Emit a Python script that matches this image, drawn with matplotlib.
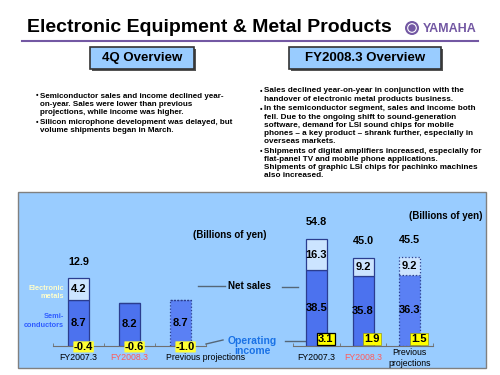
import matplotlib.pyplot as plt
from matplotlib.patches import Rectangle, Circle
from matplotlib.transforms import ScaledTranslation

plt.rcParams['font.family'] = ['Liberation Sans', 'DejaVu Sans']

# 4Q figures (billions of yen)
q4_labels = ['FY2007.3', 'FY2008.3', 'Previous projections']
q4_semi = [8.7, 8.2, 8.7]
q4_metals = [4.2, 0.0, 0.0]
q4_total = [12.9, None, None]
q4_income = [-0.4, -0.6, -1.0]

# full year figures (billions of yen)
fy_labels = ['FY2007.3', 'FY2008.3', 'Previous\nprojections']
fy_semi = [38.5, 35.8, 36.3]
fy_metals = [16.3, 9.2, 9.2]
fy_total = [54.8, 45.0, 45.5]
fy_income = [3.1, 1.9, 1.5]

label_colors = ['black', '#ff5a5a', 'black']

left_bullets = [
    ['Semiconductor sales and income declined year-',
     'on-year. Sales were lower than previous',
     'projections, while income was higher.'],
    ['Silicon microphone development was delayed, but',
     'volume shipments began in March.'],
]
right_bullets = [
    ['Sales declined year-on-year in conjunction with the',
     'handover of electronic metal products business.'],
    ['In the semiconductor segment, sales and income both',
     'fell. Due to the ongoing shift to sound-generation',
     'software, demand for LSI sound chips for mobile',
     'phones \u2013 a key product \u2013 shrank further, especially in',
     'overseas markets.'],
    ['Shipments of digital amplifiers increased, especially for',
     'flat-panel TV and mobile phone applications.',
     'Shipments of graphic LSI chips for pachinko machines',
     'also increased.'],
]

SEMI_C = '#4c72ee'
PROJ_C = '#5a80f4'
METAL_C = '#cce4ff'
EDGE_C = '#2b3d8f'
PANEL_C = '#99ccff'
PURPLE = '#7358a3'

fig = plt.figure(figsize=(5, 3.75), dpi=100)
bg = fig.add_axes([0, 0, 1, 1])
bg.set_xlim(0, 500)
bg.set_ylim(375, 0)
bg.axis('off')

# header
bg.text(27, 27, 'Electronic Equipment & Metal Products', fontsize=14,
        fontweight='bold', va='center', ha='left')
bg.plot([22, 478], [41, 41], color=PURPLE, lw=1.5)
bg.add_patch(Circle((412, 28), 7, fc=PURPLE, ec='none'))
bg.add_patch(Circle((412, 28), 4.3, fc='none', ec='white', lw=0.8))
bg.text(477, 28.5, 'YAMAHA', color=PURPLE, fontsize=9, fontweight='heavy',
        ha='right', va='center')

# overview boxes
for x0, x1, title in [(90, 194, '4Q Overview'), (289, 441, 'FY2008.3 Overview')]:
    bg.add_patch(Rectangle((x0 + 1.5, 48.5), x1 - x0, 22, fc='#555555', ec='none'))
    bg.add_patch(Rectangle((x0, 47), x1 - x0, 22, fc=PANEL_C, ec='#333333', lw=1.2))
    bg.text((x0 + x1) / 2, 58, title, fontsize=9.5, fontweight='bold',
            ha='center', va='center')


def bullets(x, y, groups, step, gap, size):
    for lines in groups:
        bg.text(x - 4, y, '\u2022', fontsize=5, fontweight='bold', va='center')
        for ln in lines:
            bg.text(x, y, ln, fontsize=size, fontweight='bold', va='center')
            y += step
        y += gap


bullets(40, 96, left_bullets, 8.2, 1.5, 5.8)
bullets(264, 91, right_bullets, 8.1, 1.8, 5.85)

# chart panel
bg.add_patch(Rectangle((18, 192), 468, 176, fc=PANEL_C, ec='#808080', lw=1))

bg.text(193, 235, '(Billions of yen)', fontsize=7, fontweight='bold', va='center')
bg.text(409, 216, '(Billions of yen)', fontsize=7, fontweight='bold', va='center')
bg.text(64, 292.5, 'Electronic\nmetals', color='#ffffcc', fontsize=5.3,
        fontweight='bold', ha='right', va='center', linespacing=1.3)
bg.text(64, 321, 'Semi-\nconductors', color='#2f5cff', fontsize=5.3,
        fontweight='bold', ha='right', va='center', linespacing=1.3)
bg.plot([198, 225], [286, 286], color='#556677', lw=1)
bg.text(249.5, 286, 'Net sales', fontsize=7, fontweight='bold', ha='center', va='center')
bg.plot([282, 298], [287, 287], color='#556677', lw=1)
bg.text(252, 346, 'Operating\nincome', color='#1a72e6', fontsize=7.5,
        fontweight='bold', ha='center', va='center', linespacing=1.05)
bg.plot([206, 223], [344, 340], color='#556677', lw=1)
bg.plot([285, 315], [341, 341], color='#556677', lw=1)


def chart(rect, ymax, labels, semi, metals, totals, income, width, inc_dx, boxed):
    ax = fig.add_axes(rect)
    ax.set_facecolor('none')
    x = list(range(len(labels)))
    bars = ax.bar(x, semi, width, color=SEMI_C, edgecolor=EDGE_C, lw=0.9, zorder=2)
    tops = ax.bar(x, metals, width, bottom=semi, color=METAL_C, edgecolor=EDGE_C,
                  lw=0.9, zorder=2)
    # projection bar drawn with dotted outline
    bars[2].set_facecolor(PROJ_C)
    bars[2].set_linestyle(':')
    tops[2].set_linestyle(':')
    for i in x:
        ax.text(i, semi[i] / 2, f'{semi[i]:.1f}', fontsize=8, fontweight='bold',
                ha='center', va='center', zorder=3)
        if metals[i] > 0:
            ax.text(i, semi[i] + metals[i] / 2, f'{metals[i]:.1f}', fontsize=8,
                    fontweight='bold', ha='center', va='center', zorder=3)
        if totals[i] is not None:
            ax.annotate(f'{totals[i]:.1f}', (i, totals[i]), xytext=(0, 12),
                        textcoords='offset points', fontsize=7.8, fontweight='bold',
                        ha='center', va='center')
        if boxed:
            ax.annotate(f'{income[i]:.1f}', (i + inc_dx, 0), xytext=(0, 1),
                        textcoords='offset points', fontsize=8, fontweight='bold',
                        ha='center', va='bottom', zorder=4,
                        bbox=dict(boxstyle='square,pad=0.12', fc='#ffff00',
                                  ec='black' if i == 0 else '#888800',
                                  lw=0.9 if i == 0 else 0.4))
        else:
            ax.annotate(f'{income[i]:.1f}', (i + inc_dx, 0), xytext=(0, -1),
                        textcoords='offset points', fontsize=8, fontweight='bold',
                        ha='center', va='center', zorder=4,
                        bbox=dict(boxstyle='round,pad=0.05', fc='#ffff33', ec='none'))
    ax.set_xlim(-0.5, 2.5)
    ax.set_ylim(0, ymax)
    for s in ['left', 'right', 'top']:
        ax.spines[s].set_visible(False)
    ax.spines['bottom'].set_color('#707070')
    ax.set_yticks([])
    ax.set_xticks(x, labels, fontsize=6.3, linespacing=1.2)
    ax.set_xticks([-0.5, 0.5, 1.5, 2.5], minor=True)
    ax.tick_params(axis='x', which='major', length=0, pad=9)
    ax.tick_params(axis='x', which='minor', length=2.5, direction='in', color='#707070')
    for lbl, c in zip(ax.get_xticklabels(), label_colors):
        lbl.set_color(c)
        lbl.set_va('center')
    return ax


base = (375 - 345.5) / 375
h = 145.5 / 375
ax1 = chart([53 / 500, base, 153 / 500, h], 145.5 / 5.2, q4_labels, q4_semi,
            q4_metals, q4_total, q4_income, 0.43, 0.1, False)
proj = ax1.get_xticklabels()[2]
proj.set_transform(proj.get_transform() + ScaledTranslation(0.25, 0, fig.dpi_scale_trans))

ax2 = chart([293 / 500, base, 140 / 500, h], 145.5 / 1.95, fy_labels, fy_semi,
            fy_metals, fy_total, fy_income, 0.45, 0.2, True)

fig.savefig('out.png', dpi=100)
